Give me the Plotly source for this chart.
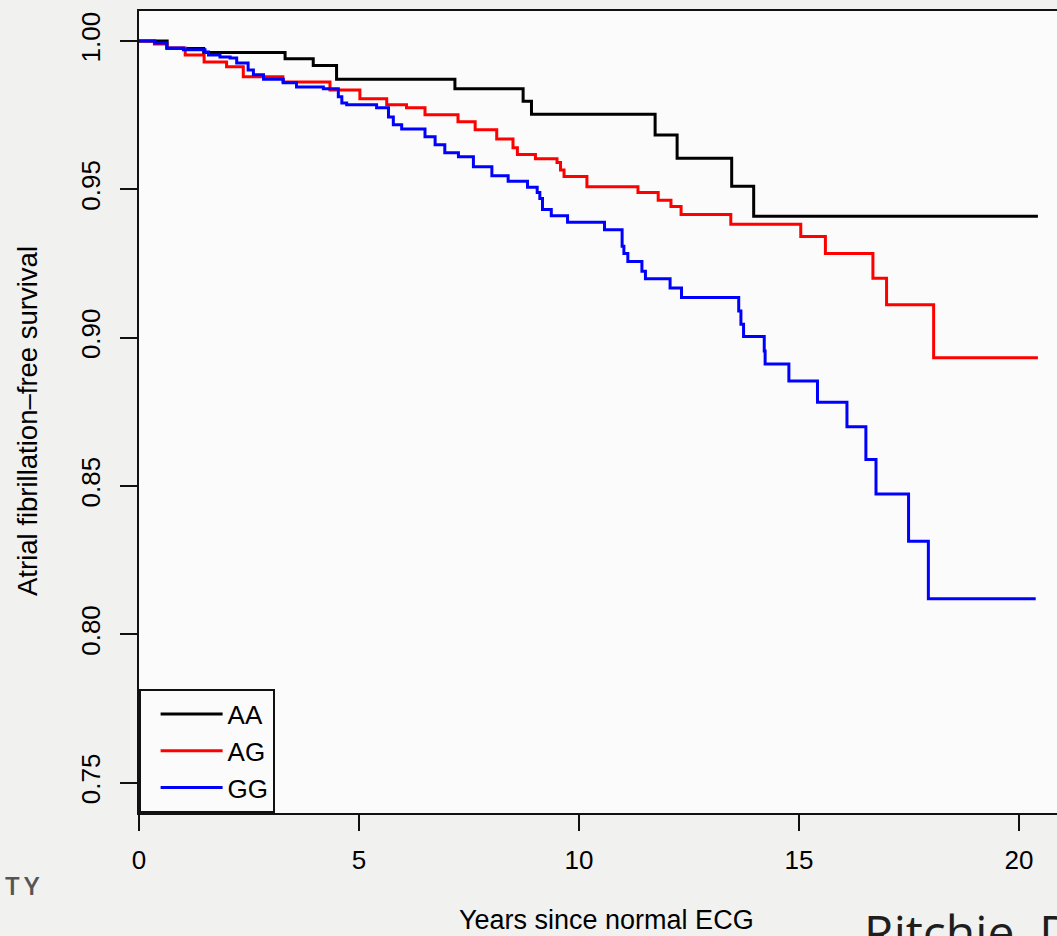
import plotly.graph_objects as go

# ---- data ----
aa_time = [0, 0.64, 1.47, 3.32, 3.96, 4.49, 7.18, 8.73, 8.92, 11.73, 12.23, 13.47, 13.97, 20.43]
aa_surv = [1.0, 0.9975, 0.9961, 0.9940, 0.9917, 0.9871, 0.9839, 0.9797, 0.9753, 0.9683, 0.9605, 0.9510, 0.9409, 0.9409]

ag_time = [0, 0.35, 0.63, 1.05, 1.48, 1.99, 2.37, 3.27, 4.34, 5.02, 5.63, 6.08, 6.5, 7.25, 7.64, 8.13,
           8.5, 8.6, 9.01, 9.5, 9.58, 9.66, 10.18, 11.34, 11.8, 12.09, 12.32, 13.45, 15.04, 15.6, 16.68,
           16.99, 18.06, 20.43]
ag_surv = [1.0, 0.9990, 0.9976, 0.9953, 0.9929, 0.9913, 0.9879, 0.9862, 0.9835, 0.9805, 0.9785, 0.9775,
           0.9751, 0.9728, 0.9701, 0.9670, 0.9640, 0.9617, 0.9603, 0.9590, 0.9565, 0.9543, 0.9509, 0.9489,
           0.9463, 0.9442, 0.9415, 0.9382, 0.9341, 0.9284, 0.9200, 0.9111, 0.8932, 0.8932]

gg_time = [0, 0.36, 0.63, 1.01, 1.5, 1.58, 1.84, 2.07, 2.22, 2.48, 2.6, 2.83, 3.28, 3.58, 4.19, 4.53,
           4.61, 4.72, 5.4, 5.67, 5.78, 5.97, 6.5, 6.73, 6.95, 7.26, 7.6, 8.02, 8.39, 8.83, 9.05, 9.11,
           9.17, 9.37, 9.74, 10.58, 10.98, 11.02, 11.11, 11.43, 11.51, 12.07, 12.33, 13.63, 13.68, 13.74,
           14.21, 14.23, 14.77, 15.42, 16.09, 16.52, 16.75, 17.49, 17.94, 20.38]
gg_surv = [1.0, 0.9993, 0.9976, 0.9970, 0.9963, 0.9953, 0.9946, 0.9943, 0.9926, 0.9902, 0.9886, 0.9871,
           0.9859, 0.9845, 0.9839, 0.9812, 0.9791, 0.9785, 0.9775, 0.9744, 0.9718, 0.9703, 0.9677, 0.9650,
           0.9623, 0.9610, 0.9576, 0.9546, 0.9527, 0.9507, 0.9489, 0.9469, 0.9432, 0.9411, 0.9389, 0.9364,
           0.9308, 0.9284, 0.9257, 0.9224, 0.9199, 0.9167, 0.9135, 0.9090, 0.9045, 0.9004, 0.8955, 0.8911,
           0.8854, 0.8782, 0.8700, 0.8589, 0.8473, 0.8314, 0.8120, 0.8120]

series_names = ["AA", "AG", "GG"]
series_colors = ["#000000", "#ff0000", "#0000ff"]

x_ticks = [0, 5, 10, 15, 20]
y_ticks = [0.75, 0.80, 0.85, 0.90, 0.95, 1.00]
y_ticktext = ["0.75", "0.80", "0.85", "0.90", "0.95", "1.00"]

x_title = "Years since normal ECG"
y_title = "Atrial fibrillation\u2013free survival"

# ---- figure ----
W, H = 1057, 936
ML, MR, MT, MB = 139, 0, 11, 123
PW, PH = W - ML - MR, H - MT - MB
FONT = "Liberation Sans, Arial, Helvetica, sans-serif"

fig = go.Figure()
for name, col, t, s in zip(series_names, series_colors,
                           [aa_time, ag_time, gg_time], [aa_surv, ag_surv, gg_surv]):
    fig.add_trace(go.Scatter(x=t, y=s, mode="lines", name=name,
                             line=dict(color=col, width=3, shape="hv")))

def px_x(p):
    return (p - ML) / PW

def px_y(p):
    return (H - MB - p) / PH

fig.update_layout(
    width=W, height=H,
    margin=dict(l=ML, r=MR, t=MT, b=MB, pad=0),
    paper_bgcolor="#f1f1f0",
    plot_bgcolor="#fbfbfb",
    font=dict(family=FONT, size=26, color="#000000"),
    showlegend=True,
    legend=dict(x=0, y=0, xanchor="left", yanchor="bottom",
                bgcolor="#fbfbfb", bordercolor="#111111", borderwidth=1.6,
                font=dict(family=FONT, size=26, color="#000000"),
                itemwidth=62, indentation=15, tracegroupgap=0),
    xaxis=dict(range=[0, PW / 44.0], tickmode="array", tickvals=x_ticks,
               ticks="outside", ticklen=16, tickwidth=1.6, tickcolor="#111111",
               showline=True, linecolor="#111111", linewidth=1.6, mirror=True,
               showgrid=False, zeroline=False, ticklabelstandoff=7,
               tickfont=dict(family=FONT, size=26, color="#000000")),
    yaxis=dict(range=[0.7398, 1.0101], tickmode="array", tickvals=y_ticks, ticktext=y_ticktext,
               ticks="outside", ticklen=17, tickwidth=1.6, tickcolor="#111111",
               showline=True, linecolor="#111111", linewidth=1.6, mirror=False,
               showgrid=False, zeroline=False, tickangle=-90, ticklabelstandoff=10,
               tickfont=dict(family=FONT, size=26, color="#000000")),
)

annotations = [
    dict(text=x_title, x=px_x(606), y=px_y(920), xref="paper", yref="paper",
         xanchor="center", yanchor="middle", showarrow=False,
         font=dict(family=FONT, size=27, color="#000000")),
    dict(text=y_title, x=px_x(27), y=px_y(421), xref="paper", yref="paper",
         xanchor="center", yanchor="middle", showarrow=False, textangle=-90,
         font=dict(family=FONT, size=27.5, color="#000000")),
    dict(text="T\u2009Y", x=px_x(3), y=px_y(885), xref="paper", yref="paper",
         xanchor="left", yanchor="middle", showarrow=False,
         font=dict(family="Open Sans, sans-serif", size=26, color="#555555", weight=600)),
    dict(text="Ritchie  D", x=px_x(862), y=px_y(897), xref="paper", yref="paper",
         xanchor="left", yanchor="top", showarrow=False,
         font=dict(family="Open Sans, sans-serif", size=48, color="#1e1e1e")),
]
fig.update_layout(annotations=annotations)

fig.write_html("out.html")
